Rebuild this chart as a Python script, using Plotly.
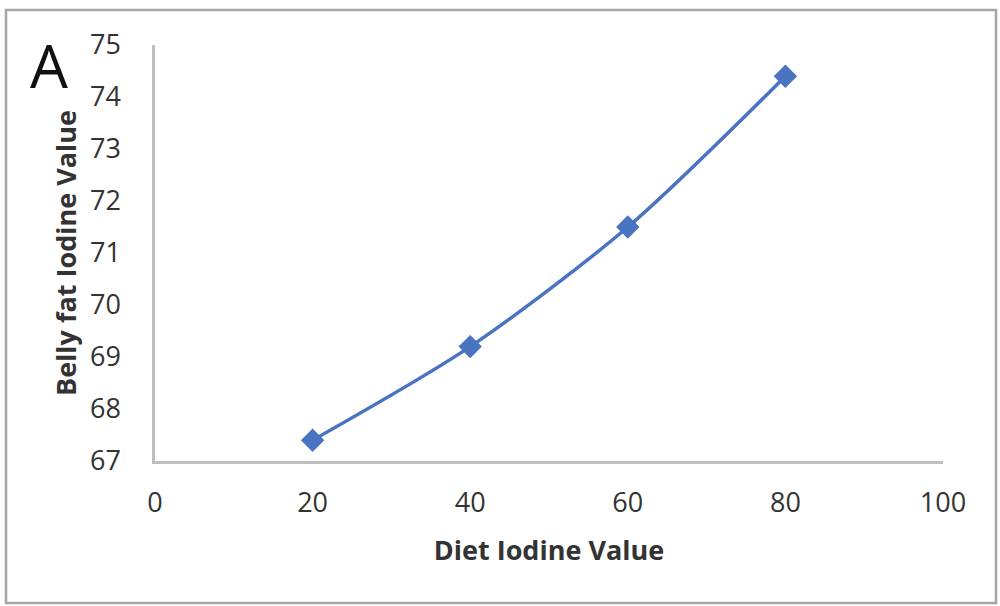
import plotly.graph_objects as go

diet_iv = [20, 40, 60, 80]
belly_iv = [67.4, 69.2, 71.5, 74.4]
x_ticks = [0, 20, 40, 60, 80, 100]
y_ticks = [67, 68, 69, 70, 71, 72, 73, 74, 75]

L, R, T, B = 155, 57, 45, 145
W, H = 1000, 606
pw, ph = W - L - R, H - T - B

def px_to_paper_x(px):
    return (px - L) / pw

def px_to_paper_y(py):
    return (H - B - py) / ph

fig = go.Figure()
fig.add_trace(go.Scatter(
    x=diet_iv, y=belly_iv, mode="lines+markers",
    line=dict(color="#4A73C2", width=3.5, shape="spline", smoothing=0.8),
    marker=dict(symbol="diamond", size=18, color="#4A73C2"),
    cliponaxis=False, showlegend=False,
))

font = "Open Sans, DejaVu Sans, sans-serif"
fig.update_layout(
    width=W, height=H,
    margin=dict(l=L, r=R, t=T, b=B),
    paper_bgcolor="white", plot_bgcolor="white",
    font=dict(family=font, color="#333333"),
    xaxis=dict(
        range=[0, 100], tickvals=x_ticks, showgrid=False, zeroline=False,
        showline=True, linecolor="#BFBFBF", linewidth=2.5, ticks="",
        tickfont=dict(size=27, color="#333333"), ticklabelstandoff=16,
        title=dict(text="<b>Diet Iodine Value</b>", font=dict(size=27, color="#333333"), standoff=22),
    ),
    yaxis=dict(
        range=[67, 75], tickvals=y_ticks, showgrid=False, zeroline=False,
        showline=True, linecolor="#BFBFBF", linewidth=2.5, ticks="",
        tickfont=dict(size=27, color="#333333"), ticklabelstandoff=26,
        title=dict(text="<b>Belly fat Iodine Value</b>", font=dict(size=27, color="#333333"), standoff=6),
    ),
    shapes=[dict(
        type="rect", xref="paper", yref="paper",
        x0=px_to_paper_x(6), x1=px_to_paper_x(996),
        y0=px_to_paper_y(603), y1=px_to_paper_y(10),
        line=dict(color="#A6A6A6", width=2.5), fillcolor="rgba(0,0,0,0)",
    )],
    annotations=[dict(
        text="A", xref="paper", yref="paper",
        x=px_to_paper_x(28), y=px_to_paper_y(22),
        xanchor="left", yanchor="top", showarrow=False,
        font=dict(size=60, color="#111111", family=font),
    )],
)

fig.write_html(
    "out.html",
    config={"displayModeBar": False},
    post_script="document.body.style.margin='0';document.body.style.overflow='hidden';",
)
